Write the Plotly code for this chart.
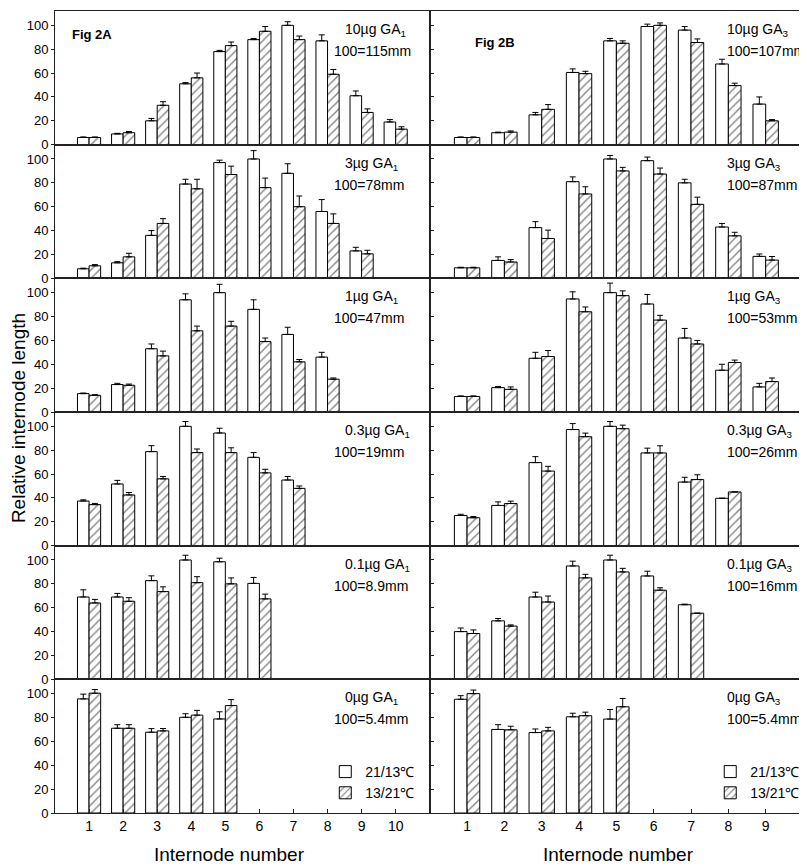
import plotly.graph_objects as go
from plotly.subplots import make_subplots

# ---------------- data ----------------
internodes_A = [1, 2, 3, 4, 5, 6, 7, 8, 9, 10]
internodes_B = [1, 2, 3, 4, 5, 6, 7, 8, 9]

# Fig 2A (GA1): white = 21/13 C, hatched = 13/21 C
a10_w = [6, 9, 20, 51, 78, 88, 100, 87, 41, 19]
a10_w_se = [0.5, 0.5, 2, 1, 1, 1, 3, 5, 4, 2]
a10_h = [6, 10, 33, 56, 83, 95, 88, 59, 27, 13]
a10_h_se = [0.5, 1, 3, 4, 3, 4, 3, 4, 3, 2]

a3_w = [8, 13, 36, 79, 97, 100, 88, 56, 23]
a3_w_se = [0.5, 1, 4, 4, 2, 7, 8, 10, 3]
a3_h = [10.5, 18, 46, 75, 87, 76, 60, 46, 20.5]
a3_h_se = [1, 3, 4, 8, 7, 8, 9, 8, 3]

a1_w = [15.4, 23, 53, 94, 100, 86, 65, 46]
a1_w_se = [0.5, 1, 4, 5, 7, 8, 6, 4]
a1_h = [14, 22.4, 47, 68, 72, 59, 42, 27.5]
a1_h_se = [0.5, 1, 4, 4, 4, 3, 2, 1]

a03_w = [37.4, 51.7, 78.8, 100, 94.4, 74, 55]
a03_w_se = [1, 3, 5, 4, 4, 4, 3]
a03_h = [34.4, 42.5, 56, 78, 78, 61, 48]
a03_h_se = [1, 2, 2, 3, 4, 3, 2]

a01_w = [69, 69, 82.7, 100, 98.5, 80.4]
a01_w_se = [6, 3, 4, 4, 3, 5]
a01_h = [64, 65.4, 73.5, 81, 80, 67.4]
a01_h_se = [3, 3, 4, 5, 5, 4]

a0_w = [95.6, 71, 67.7, 80.2, 78.8]
a0_w_se = [4, 3, 3, 3, 6]
a0_h = [100.4, 71, 68.8, 82, 90]
a0_h_se = [3, 3, 2, 4, 5]

# Fig 2B (GA3)
b10_w = [6, 10, 25, 60.5, 87, 99, 96, 67.6, 34]
b10_w_se = [0.5, 0.5, 2, 3, 2, 2, 3, 4, 6]
b10_h = [6, 10.5, 29.6, 59.5, 85, 100, 85.6, 49.5, 20]
b10_h_se = [0.5, 1, 4, 2, 2, 2, 3, 2, 1]

b3_w = [8.8, 15, 42.5, 81, 100, 98.6, 80, 43, 18.4]
b3_w_se = [0.5, 3, 5, 4, 3, 3, 3, 3, 2]
b3_h = [8.8, 13.7, 33.4, 70.7, 90, 87.4, 62, 35.6, 15.3]
b3_h_se = [0.5, 2, 7, 6, 3, 5, 6, 3, 3]

b1_w = [13, 20.4, 45, 94.7, 100, 90.5, 62, 35, 21]
b1_w_se = [0.5, 1, 5, 6, 8, 8, 8, 5, 3]
b1_h = [13, 19, 46.5, 84, 97.5, 77, 57, 41.5, 25.5]
b1_h_se = [0.5, 2, 5, 4, 4, 4, 3, 2, 3]

b03_w = [25.3, 33.7, 69.6, 97.3, 100, 77.7, 53.3, 39.7]
b03_w_se = [1, 3, 5, 5, 4, 4, 4, 0]
b03_h = [23.4, 35.3, 62.5, 91.3, 98, 77.7, 55.4, 45]
b03_h_se = [1, 2, 4, 3, 3, 6, 4, 0]

b01_w = [40, 49, 69, 95, 100, 86.6, 62.5]
b01_w_se = [3, 2, 4, 4, 4, 4, 0.5]
b01_h = [38.4, 44.6, 64.8, 85, 90, 74.7, 55.4]
b01_h_se = [3, 1, 5, 3, 3, 2, 0]

b0_w = [95.3, 70, 67.4, 80.6, 78.7]
b0_w_se = [3, 4, 3, 3, 8]
b0_h = [100, 69.7, 68.8, 81.5, 89]
b0_h_se = [3, 3, 3, 3, 7]

dose_A = ["10µg GA<sub>1</sub>", "3µg GA<sub>1</sub>", "1µg GA<sub>1</sub>",
          "0.3µg GA<sub>1</sub>", "0.1µg GA<sub>1</sub>", "0µg GA<sub>1</sub>"]
scale_A = ["100=115mm", "100=78mm", "100=47mm", "100=19mm", "100=8.9mm", "100=5.4mm"]
dose_B = ["10µg GA<sub>3</sub>", "3µg GA<sub>3</sub>", "1µg GA<sub>3</sub>",
          "0.3µg GA<sub>3</sub>", "0.1µg GA<sub>3</sub>", "0µg GA<sub>3</sub>"]
scale_B = ["100=107mm", "100=87mm", "100=53mm", "100=26mm", "100=16mm", "100=5.4mm"]

series_names = ["21/13℃", "13/21℃"]
y_ticks = [0, 20, 40, 60, 80, 100]

panels_A = [(a10_w, a10_w_se, a10_h, a10_h_se), (a3_w, a3_w_se, a3_h, a3_h_se),
            (a1_w, a1_w_se, a1_h, a1_h_se), (a03_w, a03_w_se, a03_h, a03_h_se),
            (a01_w, a01_w_se, a01_h, a01_h_se), (a0_w, a0_w_se, a0_h, a0_h_se)]
panels_B = [(b10_w, b10_w_se, b10_h, b10_h_se), (b3_w, b3_w_se, b3_h, b3_h_se),
            (b1_w, b1_w_se, b1_h, b1_h_se), (b03_w, b03_w_se, b03_h, b03_h_se),
            (b01_w, b01_w_se, b01_h, b01_h_se), (b0_w, b0_w_se, b0_h, b0_h_se)]

# ---------------- figure ----------------
# The page body has an 8px margin, so the figure is sized/positioned to compensate.
OFF = 8
W, H = 807 - OFF, 867 - OFF
ML, MR, MT, MB = 55 - OFF, 2, 11 - OFF, 54
PW, PH = W - ML - MR, H - MT - MB

fig = make_subplots(rows=6, cols=2, horizontal_spacing=0, vertical_spacing=0,
                    column_widths=[0.501, 0.499])

FONT = "Liberation Sans, Arial, sans-serif"


def add_panel(row, col, data, legend_name):
    w, wse, h, hse = data
    x = list(range(1, len(w) + 1))
    show = row == 6
    fig.add_trace(go.Bar(
        x=x, y=w, name=series_names[0], legend=legend_name, showlegend=show,
        marker=dict(color="white", line=dict(color="black", width=1)),
        error_y=dict(type="data", array=wse, arrayminus=[0] * len(wse), symmetric=False,
                     color="black", thickness=1, width=3),
    ), row=row, col=col)
    fig.add_trace(go.Bar(
        x=x, y=h, name=series_names[1], legend=legend_name, showlegend=show,
        marker=dict(color="white", line=dict(color="black", width=1),
                    pattern=dict(shape="/", fgcolor="black", bgcolor="white",
                                 size=6, solidity=0.22)),
        error_y=dict(type="data", array=hse, arrayminus=[0] * len(hse), symmetric=False,
                     color="black", thickness=1, width=3),
    ), row=row, col=col)


for r in range(6):
    add_panel(r + 1, 1, panels_A[r], "legend")
    add_panel(r + 1, 2, panels_B[r], "legend2")

axis_common = dict(showline=True, mirror=True, linecolor="#222", linewidth=1,
                   showgrid=False, zeroline=False)
for r in range(1, 7):
    fig.update_yaxes(range=[0, 112], tickvals=y_ticks, ticks="outside", ticklen=3,
                     tickcolor="#222", tickfont=dict(size=13, color="black", family=FONT),
                     row=r, col=1, **axis_common)
    fig.update_yaxes(range=[0, 112], tickvals=y_ticks, ticks="inside", ticklen=4,
                     tickcolor="#222", showticklabels=False, row=r, col=2, **axis_common)
    bottom = r == 6
    fig.update_xaxes(range=[0, 11], tickvals=internodes_A, ticks="inside" if bottom else "",
                     ticklen=4, tickcolor="#222", showticklabels=bottom,
                     tickfont=dict(size=14, color="black", family=FONT),
                     row=r, col=1, **axis_common)
    fig.update_xaxes(range=[0, 10], tickvals=internodes_B, ticks="inside" if bottom else "",
                     ticklen=4, tickcolor="#222", showticklabels=bottom,
                     tickfont=dict(size=14, color="black", family=FONT),
                     row=r, col=2, **axis_common)


def px_x(p):
    return (p - OFF - ML) / PW


def px_y(p):
    return (H - MB - (p - OFF)) / PH


annotations = []
row_h = PH / 6
for r in range(6):
    top = 11 + r * row_h
    annotations.append(dict(text=dose_A[r], x=px_x(344), y=px_y(top + 19), xref="paper",
                            yref="paper", xanchor="left", yanchor="middle", showarrow=False,
                            font=dict(size=14, family=FONT, color="black")))
    annotations.append(dict(text=scale_A[r], x=px_x(333), y=px_y(top + 40), xref="paper",
                            yref="paper", xanchor="left", yanchor="middle", showarrow=False,
                            font=dict(size=14, family=FONT, color="black")))
    annotations.append(dict(text=dose_B[r], x=px_x(727), y=px_y(top + 19), xref="paper",
                            yref="paper", xanchor="left", yanchor="middle", showarrow=False,
                            font=dict(size=14, family=FONT, color="black")))
    annotations.append(dict(text=scale_B[r], x=px_x(727), y=px_y(top + 40), xref="paper",
                            yref="paper", xanchor="left", yanchor="middle", showarrow=False,
                            font=dict(size=14, family=FONT, color="black")))

annotations.append(dict(text="<b>Fig 2A</b>", x=px_x(70), y=px_y(34), xref="paper", yref="paper",
                        xanchor="left", yanchor="middle", showarrow=False,
                        font=dict(size=13, family=FONT, color="black")))
annotations.append(dict(text="<b>Fig 2B</b>", x=px_x(474), y=px_y(43), xref="paper", yref="paper",
                        xanchor="left", yanchor="middle", showarrow=False,
                        font=dict(size=13, family=FONT, color="black")))
annotations.append(dict(text="Relative internode length", x=px_x(18), y=px_y(418), xref="paper",
                        yref="paper", xanchor="center", yanchor="middle", textangle=-90,
                        showarrow=False, font=dict(size=19, family=FONT, color="black")))
annotations.append(dict(text="Internode number", x=px_x(230), y=px_y(854), xref="paper",
                        yref="paper", xanchor="center", yanchor="middle", showarrow=False,
                        font=dict(size=19, family=FONT, color="black")))
annotations.append(dict(text="Internode number", x=px_x(620), y=px_y(854), xref="paper",
                        yref="paper", xanchor="center", yanchor="middle", showarrow=False,
                        font=dict(size=19, family=FONT, color="black")))

legend_style = dict(xanchor="left", yanchor="top", bgcolor="rgba(0,0,0,0)",
                    font=dict(size=14, family=FONT, color="black"), tracegroupgap=0,
                    itemwidth=30, traceorder="normal")

fig.update_layout(
    width=W, height=H,
    margin=dict(l=ML, r=MR, t=MT, b=MB),
    paper_bgcolor="white", plot_bgcolor="white",
    barmode="group", bargap=0.32, bargroupgap=0,
    annotations=annotations,
    legend=dict(x=px_x(326), y=px_y(756), **legend_style),
    legend2=dict(x=px_x(712), y=px_y(756), **legend_style),
    font=dict(family=FONT, color="black"),
)

fig.write_html("out.html")
